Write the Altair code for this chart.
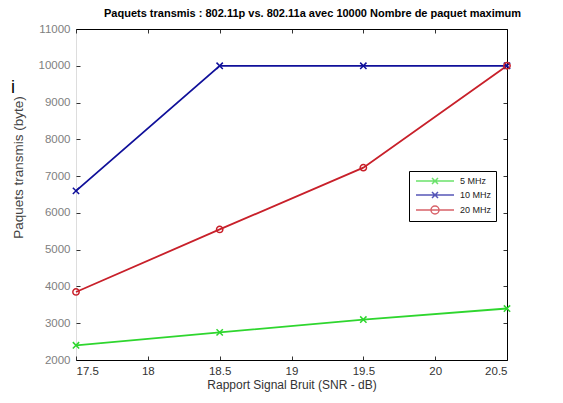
import altair as alt
import pandas as pd

# ---- data ----
snr = [17.5, 18.5, 19.5, 20.5]
series = ["5 MHz", "10 MHz", "20 MHz"]
v5 = [2400, 2750, 3100, 3400]
v10 = [6600, 10000, 10000, 10000]
v20 = [3850, 5550, 7230, 10000]
colors = ["#2ed62e", "#10109a", "#c8202a"]
x_ticks = [17.5, 18, 18.5, 19, 19.5, 20, 20.5]
y_ticks = [2000, 3000, 4000, 5000, 6000, 7000, 8000, 9000, 10000, 11000]

rows = []
for name, vals in zip(series, [v5, v10, v20]):
    for s, v in zip(snr, vals):
        rows.append({"snr": s, "val": v, "series": name})
df = pd.DataFrame(rows)

W, H = 431, 331
FONT = "Liberation Sans"

xs = alt.Scale(domain=[17.5, 20.5], nice=False, zero=False)
ys = alt.Scale(domain=[2000, 11000], nice=False, zero=False)
color_scale = alt.Scale(domain=series, range=colors)

XMARK = "M-1,-1L1,1M-1,1L1,-1"
LEG_X = "M-3.8,0H3.8M-0.6,-0.6L0.6,0.6M-0.6,0.6L0.6,-0.6"
LEG_O = "M-3.8,0H3.8M0.8,0A0.8,0.8 0 1,1 -0.8,0A0.8,0.8 0 1,1 0.8,0"

tick_grid = dict(grid=True, gridColor="#333333", gridDash=[4, 2000], gridWidth=1, ticks=False)

ax_bottom = alt.Axis(orient="bottom", values=x_ticks, labelExpr="'' + datum.value",
                     title="Rapport Signal Bruit (SNR - dB)", domainColor="black", domainWidth=1,
                     labelFontSize=11.5, labelColor="#333333", labelPadding=5, labelFont=FONT,
                     titleFontSize=12, titleFontWeight="normal", titleColor="#333333",
                     titlePadding=3, titleFont=FONT, **tick_grid)
ax_left = alt.Axis(orient="left", values=y_ticks, format="d", domain=False,
                   labelFontSize=11.5, labelColor="#808080", labelPadding=6, labelFont=FONT,
                   title="Paquets transmis (byte)", titleFontSize=13.5, titleFontWeight="normal",
                   titleColor="#444444", titleX=-58, titleY=138, titleBaseline="middle",
                   titleFont=FONT, **tick_grid)
ax_top = alt.Axis(orient="top", values=x_ticks, labels=False, title=None,
                  domainColor="black", domainWidth=1, **tick_grid)
ax_right = alt.Axis(orient="right", values=y_ticks, labels=False, title=None,
                    domainColor="black", domainWidth=1, **tick_grid)

lines = alt.Chart(df).mark_line(strokeWidth=1.8).encode(
    x=alt.X("snr:Q", scale=xs, axis=ax_bottom),
    y=alt.Y("val:Q", scale=ys, axis=ax_left),
    color=alt.Color("series:N", scale=color_scale, legend=None),
    order="snr:Q",
)

points = alt.Chart(df).mark_point(filled=False, strokeWidth=1.5, size=40, opacity=1).encode(
    x=alt.X("snr:Q", scale=xs, axis=ax_top),
    y=alt.Y("val:Q", scale=ys, axis=ax_right),
    color=alt.Color("series:N", scale=color_scale, legend=None),
    shape=alt.Shape("series:N", scale=alt.Scale(domain=series, range=[XMARK, XMARK, "circle"]),
                    legend=None),
)

leg = dict(orient="none", legendX=333, legendY=142, title=None, strokeColor="black",
           fillColor="white", padding=4, symbolSize=100, symbolStrokeWidth=1.5,
           symbolOffset=16, labelOffset=19, labelFontSize=9, labelColor="#222222",
           labelFont=FONT, rowPadding=2)

legend_layer = alt.Chart(df).mark_point(filled=False, strokeWidth=1.5, clip=True).encode(
    x=alt.value(-500),
    y=alt.value(-500),
    color=alt.Color("series:N", scale=color_scale, legend=alt.Legend(**leg)),
    shape=alt.Shape("series:N", scale=alt.Scale(domain=series, range=[LEG_X, LEG_X, LEG_O]),
                    legend=alt.Legend(**leg)),
)

stray = alt.Chart(pd.DataFrame({"t": ["i"]})).mark_text(
    fontSize=18, align="center", baseline="middle", color="black", font=FONT
).encode(x=alt.value(-63), y=alt.value(59), text="t:N")

chart = alt.layer(lines, points, legend_layer, stray).resolve_scale(
    color="independent", shape="independent"
).resolve_axis(x="independent", y="independent").properties(
    width=W, height=H,
    title=alt.Title("Paquets transmis : 802.11p vs. 802.11a avec 10000 Nombre de paquet maximum",
                    fontSize=11, fontWeight="bold", anchor="middle", dx=21, offset=4,
                    color="black", font=FONT),
    padding={"left": 68, "top": 21, "right": 40, "bottom": 35},
    autosize=alt.AutoSizeParams(type="none"),
).configure_view(stroke="transparent").configure(font=FONT)

chart.save("out.html", embed_options={"renderer": "svg", "actions": False})
